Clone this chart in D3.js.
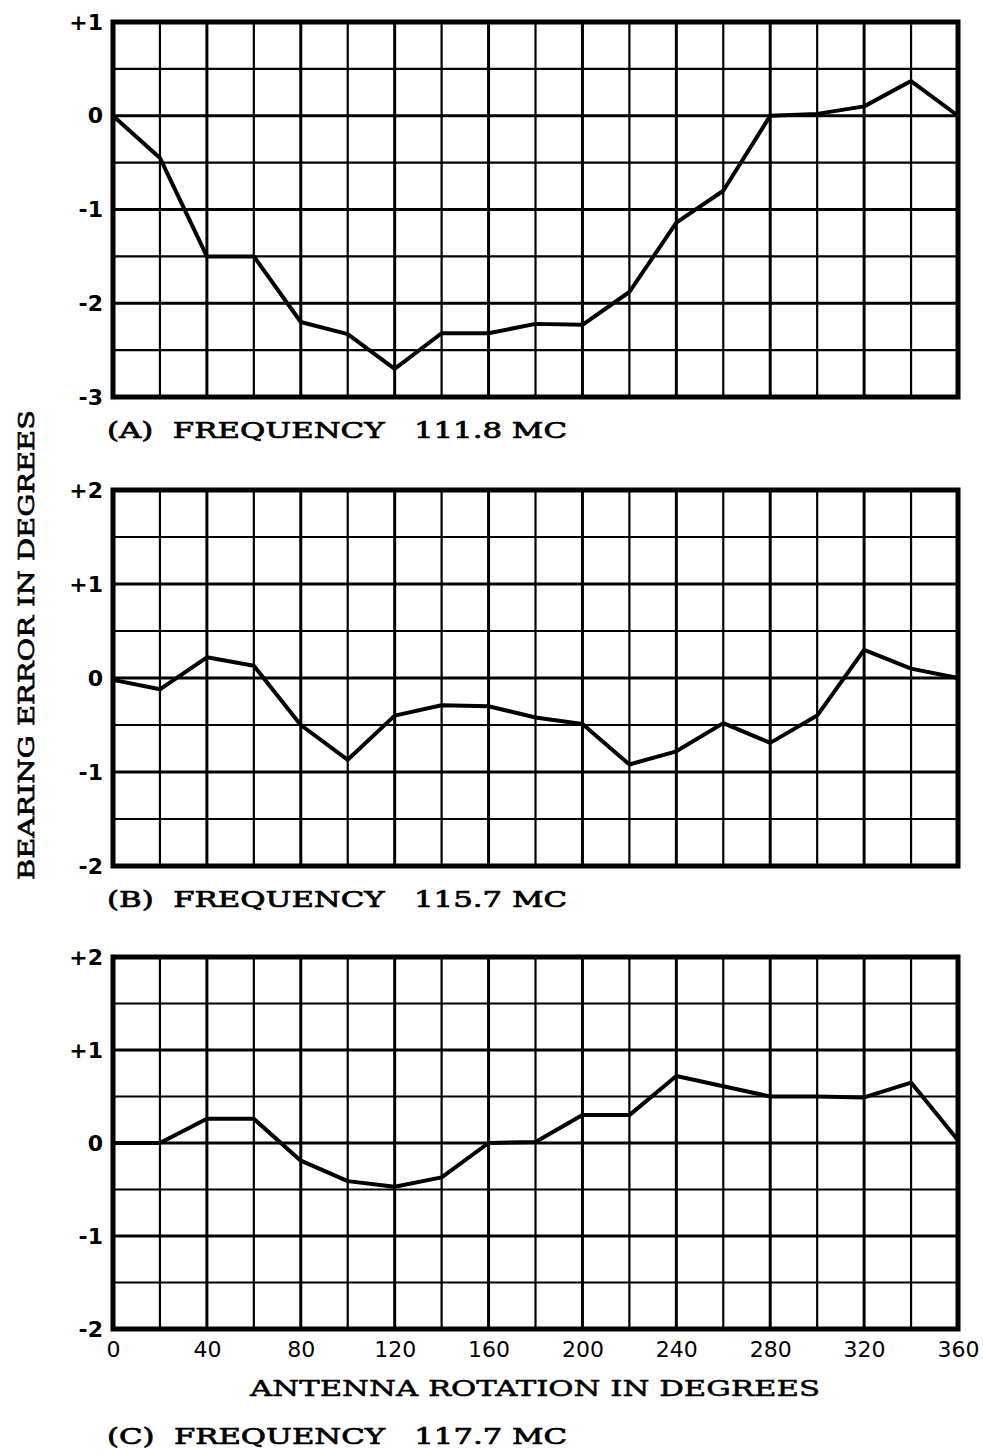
<!DOCTYPE html>
<html>
<head>
<meta charset="utf-8">
<script src="https://cdn.jsdelivr.net/npm/d3@7"></script>
<style>
  body { margin: 0; background: #fff; }
  svg { display: block; }
</style>
</head>
<body>
<div id="chart-area"></div>
<script>
// bearing error vs antenna rotation, three frequencies

const angles = [0, 20, 40, 60, 80, 100, 120, 140, 160, 180, 200, 220, 240, 260, 280, 300, 320, 340, 360]
const errorA = [0, -0.45, -1.5, -1.5, -2.2, -2.33, -2.7, -2.32, -2.32, -2.22, -2.23, -1.88, -1.14, -0.8, 0, 0.02, 0.1, 0.37, 0]
const errorB = [-0.02, -0.12, 0.22, 0.13, -0.5, -0.87, -0.4, -0.29, -0.3, -0.42, -0.49, -0.92, -0.78, -0.48, -0.69, -0.4, 0.3, 0.1, 0]
const errorC = [0, 0, 0.26, 0.26, -0.19, -0.41, -0.47, -0.37, 0, 0.01, 0.3, 0.3, 0.72, 0.61, 0.5, 0.5, 0.49, 0.65, 0.03]

const xTicks = [0, 40, 80, 120, 160, 200, 240, 280, 320, 360]
const yTicksA = [-3, -2, -1, 0, 1]
const yTicksBC = [-2, -1, 0, 1, 2]

const titles = ["(A)  FREQUENCY   111.8 MC", "(B)  FREQUENCY   115.7 MC", "(C)  FREQUENCY   117.7 MC"]
const xTitle = "ANTENNA ROTATION IN DEGREES"
const yTitle = "BEARING ERROR IN DEGREES"

const WIDTH = 983
const HEIGHT = 1454
const LEFT = 113
const RIGHT = 958

const panels = [
  { values: errorA, ticks: yTicksA, top: 22, bottom: 397, title: titles[0], titleY: 438 },
  { values: errorB, ticks: yTicksBC, top: 490, bottom: 866, title: titles[1], titleY: 907 },
  { values: errorC, ticks: yTicksBC, top: 957, bottom: 1329, title: titles[2], titleY: 1444 }
]

const SERIF = "'DejaVu Serif', 'Liberation Serif', serif"
const SANS = "'DejaVu Sans', 'Liberation Sans', sans-serif"

const svg = d3.select("#chart-area").append("svg")
  .attr("width", WIDTH)
  .attr("height", HEIGHT)

const x = d3.scaleLinear()
  .domain([0, 360])
  .range([LEFT, RIGHT])

const xGrid = d3.range(0, 361, 20)

panels.forEach((p, i) => {
  const ext = d3.extent(p.ticks)
  const y = d3.scaleLinear()
    .domain(ext)
    .range([p.bottom, p.top])

  const g = svg.append("g").attr("class", "panel")
  const yGrid = d3.range(ext[0], ext[1] + 0.01, 0.5)

  // grid
  g.selectAll(".vgrid").data(xGrid).enter().append("line")
    .attr("x1", d => x(d)).attr("x2", d => x(d))
    .attr("y1", p.top).attr("y2", p.bottom)
    .attr("stroke", "#000")
    .attr("stroke-width", d => d % 40 == 0 ? 3 : 2.2)
  g.selectAll(".hgrid").data(yGrid).enter().append("line")
    .attr("x1", LEFT).attr("x2", RIGHT)
    .attr("y1", d => y(d)).attr("y2", d => y(d))
    .attr("stroke", "#000")
    .attr("stroke-width", d => Number.isInteger(d) ? 3 : 2.2)

  // frame
  g.append("rect")
    .attr("x", LEFT).attr("y", p.top)
    .attr("width", RIGHT - LEFT).attr("height", p.bottom - p.top)
    .attr("fill", "none")
    .attr("stroke", "#000")
    .attr("stroke-width", 5)

  // data line
  const line = d3.line()
    .x((d, k) => x(angles[k]))
    .y(d => y(d))
  g.append("path")
    .datum(p.values)
    .attr("d", line)
    .attr("fill", "none")
    .attr("stroke", "#000")
    .attr("stroke-width", 4)
    .attr("stroke-linejoin", "round")

  // y axis labels
  const yAxis = d3.axisLeft(y)
    .tickValues(p.ticks)
    .tickSize(0)
    .tickPadding(10)
    .tickFormat(d => d > 0 ? "+" + d : String(d))
  const ya = g.append("g")
    .attr("transform", `translate(${LEFT}, 0)`)
    .call(yAxis)
  ya.select(".domain").remove()
  ya.selectAll("text")
    .attr("font-family", SANS)
    .attr("font-weight", "bold")
    .attr("font-size", "22px")
    .attr("fill", "#000")

  // panel title
  g.append("text")
    .attr("x", 107)
    .attr("y", p.titleY)
    .attr("font-family", SERIF)
    .attr("font-size", "22px")
    .attr("stroke", "#000")
    .attr("stroke-width", 0.7)
    .attr("textLength", 460)
    .attr("lengthAdjust", "spacingAndGlyphs")
    .attr("xml:space", "preserve")
    .style("white-space", "pre")
    .text(p.title)

  // x axis only on the last panel
  if (i == panels.length - 1) {
    const xAxis = d3.axisBottom(x)
      .tickValues(xTicks)
      .tickSize(0)
      .tickPadding(12)
    const xa = g.append("g")
      .attr("transform", `translate(0, ${p.bottom})`)
      .call(xAxis)
    xa.select(".domain").remove()
    xa.selectAll("text")
      .attr("font-family", SANS)
      .attr("font-size", "22px")
      .attr("fill", "#000")
  }
})

// axis titles
svg.append("text")
  .attr("x", 535)
  .attr("y", 1396)
  .attr("text-anchor", "middle")
  .attr("font-family", SERIF)
  .attr("font-size", "22px")
  .attr("stroke", "#000")
  .attr("stroke-width", 0.5)
  .attr("textLength", 570)
  .attr("lengthAdjust", "spacingAndGlyphs")
  .text(xTitle)

svg.append("text")
  .attr("transform", "rotate(-90)")
  .attr("x", -645)
  .attr("y", 34)
  .attr("text-anchor", "middle")
  .attr("font-family", SERIF)
  .attr("font-size", "23px")
  .attr("stroke", "#000")
  .attr("stroke-width", 0.7)
  .attr("textLength", 470)
  .attr("lengthAdjust", "spacingAndGlyphs")
  .text(yTitle)
</script>
</body>
</html>
